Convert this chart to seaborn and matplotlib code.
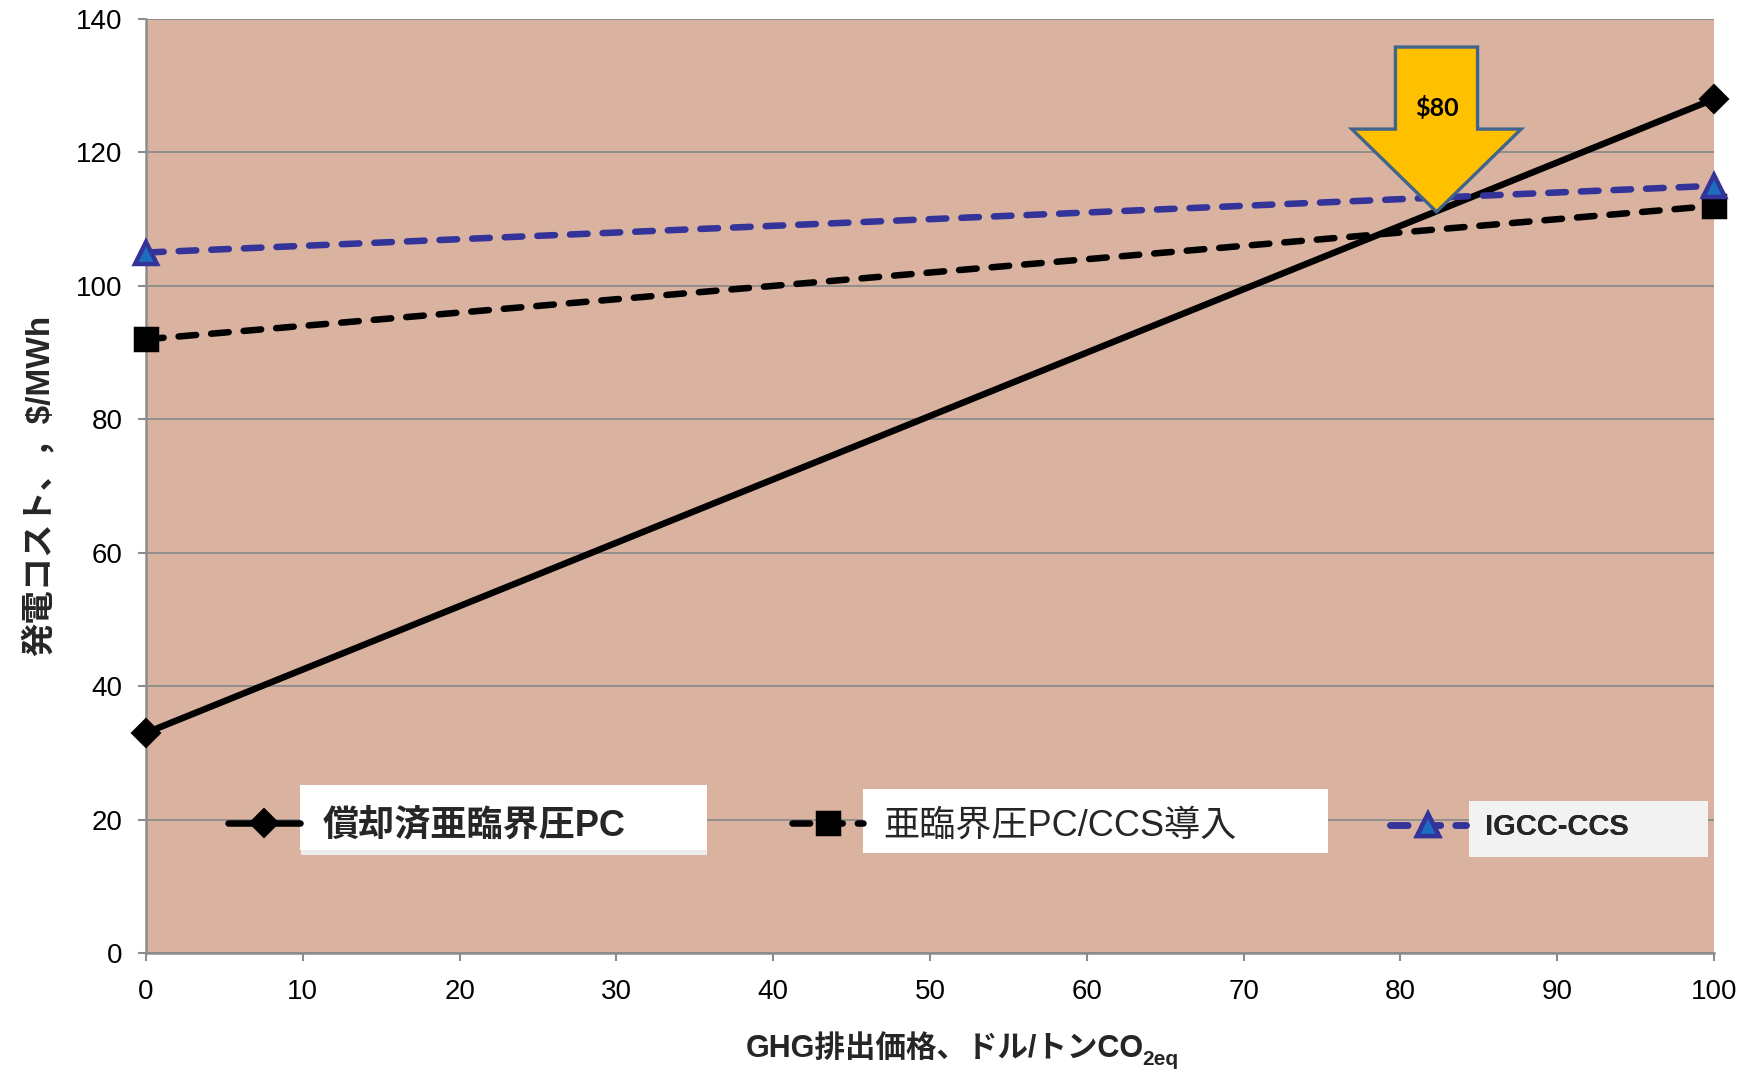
import numpy as np
import pandas as pd
import matplotlib
matplotlib.use("Agg")
import matplotlib.pyplot as plt
import seaborn as sns
from matplotlib.patches import Rectangle, Polygon
from matplotlib.font_manager import FontProperties

# --- data -----------------------------------------------------------------
carbon_price = [0, 100]                 # GHG price, $/t CO2eq
amortized_subcritical_pc = [33, 128]    # $/MWh
subcritical_pc_ccs = [92, 112]
igcc_ccs = [105, 115]

series_names = ["償却済亜臨界圧PC", "亜臨界圧PC/CCS導入", "IGCC-CCS"]
x_ticks = list(range(0, 101, 10))
y_ticks = list(range(0, 141, 20))
x_label = "GHG排出価格、ドル/トンCO"
x_label_sub = "2eq"
y_label = "発電コスト、，$/MWh"
callout_text = "$80"

# --- style ----------------------------------------------------------------
sns.set_style("white")
FAMILY = ["Liberation Sans", "Noto Sans CJK JP", "DejaVu Sans"]
plt.rcParams["font.family"] = FAMILY

BG = "#D9B3A0"
GRID = "#8C8C8C"
NAVY = "#333399"

df = pd.DataFrame({
    "price": carbon_price * 3,
    "cost": amortized_subcritical_pc + subcritical_pc_ccs + igcc_ccs,
    "series": np.repeat(series_names, len(carbon_price)),
})

fig = plt.figure(figsize=(17.49, 10.75), dpi=100)
ax = fig.add_axes([0.0835, 0.1135, 0.8965, 0.8688])
ax.set_facecolor(BG)

line_styles = {
    series_names[0]: dict(color="black", linestyle="-", marker="D",
                          markersize=14, markerfacecolor="black",
                          markeredgecolor="black", markeredgewidth=1.5),
    series_names[1]: dict(color="black", linestyle=(0, (2.7, 2.3)), marker="s",
                          markersize=16, markerfacecolor="black",
                          markeredgecolor="black", markeredgewidth=2.5),
    series_names[2]: dict(color=NAVY, linestyle=(0, (2.7, 2.3)), marker="^",
                          markersize=16, markerfacecolor="#1C6FC0",
                          markeredgecolor=NAVY, markeredgewidth=3.2),
}

handles = []
for name in series_names:
    sub = df[df["series"] == name]
    sns.lineplot(data=sub, x="price", y="cost", ax=ax, errorbar=None,
                 legend=False, linewidth=4.7, dash_capstyle="round",
                 solid_capstyle="round", clip_on=False, zorder=3,
                 **line_styles[name])
    handles.append(ax.lines[-1])

# --- axes -----------------------------------------------------------------
ax.set_xlim(0, 100)
ax.set_ylim(0, 140)
ax.set_xticks(x_ticks)
ax.set_yticks(y_ticks)
ax.yaxis.grid(True, color=GRID, linewidth=1.3)
ax.xaxis.grid(False)
ax.set_axisbelow(True)
for side in ("top", "right"):
    ax.spines[side].set_visible(False)
for side in ("left", "bottom"):
    ax.spines[side].set_color(GRID)
    ax.spines[side].set_linewidth(1.8)
ax.tick_params(axis="both", direction="out", length=6, width=1.5,
               color=GRID, labelsize=20, labelcolor="black")
ax.tick_params(axis="y", pad=11)
ax.tick_params(axis="x", pad=13)
ax.tick_params(left=True, bottom=True)

ax.set_xlabel(x_label, fontsize=22, fontweight="bold", family=FAMILY)
ax.xaxis.set_label_coords(0.5095, -0.1028)
ax.xaxis.label.set_verticalalignment("center")
ax.annotate(x_label_sub, xy=(1.0, 0.14), xycoords=ax.xaxis.label,
            xytext=(-1, 0), textcoords="offset points",
            ha="left", va="center", fontsize=15, fontweight="bold",
            family=FAMILY, annotation_clip=False)

ax.set_ylabel(y_label, fontsize=24, fontweight="bold", family=FAMILY)
ax.yaxis.set_label_coords(-0.0682, 0.501)
ax.yaxis.label.set_verticalalignment("center")

# --- legend entries: sample line + label on a white card -----------------
cards = [
    # (x0, y0, x1, y1, face) in axes fraction
    (0.0982, 0.1103, 0.3578, 0.1799, "white"),
    (0.4573, 0.1071, 0.7538, 0.1756, "white"),
    (0.8438, 0.1028, 0.9962, 0.1627, "#F2F2F2"),
]
# shadow strip under the first card
ax.add_patch(Rectangle((0.0988, 0.1049), 0.3578 - 0.0988, 0.1103 - 0.1049,
                       transform=ax.transAxes, facecolor="#EDEDED",
                       edgecolor="none", zorder=4.4))
for x0, y0, x1, y1, face in cards:
    ax.add_patch(Rectangle((x0, y0), x1 - x0, y1 - y0, transform=ax.transAxes,
                           facecolor=face, edgecolor="none", zorder=4.5))

legend_specs = [
    # anchor x, anchor y, handlelength, handletextpad, weight, size
    (0.0523, 0.136, 2.0, 0.61, "bold", 26),
    (0.4120, 0.136, 1.97, 0.55, "normal", 26),
    (0.7934, 0.135, 2.6, 0.65, "bold", 21),
]
for handle, name, (lx, ly, hl, htp, wt, sz) in zip(handles, series_names,
                                                   legend_specs):
    leg = ax.legend([handle], [name], loc="center left",
                    bbox_to_anchor=(lx, ly), frameon=False, borderpad=0,
                    borderaxespad=0, handlelength=hl, handletextpad=htp,
                    numpoints=1,
                    prop=FontProperties(family=FAMILY, weight=wt, size=sz))
    leg.set_zorder(5)
    ax.add_artist(leg)

# --- break-even callout arrow ----------------------------------------------
arrow_x, arrow_tip_y = 82.3, 111.1
body_half, head_half = 2.62, 5.4
shoulder_y, top_y = 123.5, 135.8
arrow = Polygon([
    (arrow_x - body_half, top_y), (arrow_x + body_half, top_y),
    (arrow_x + body_half, shoulder_y), (arrow_x + head_half, shoulder_y),
    (arrow_x, arrow_tip_y), (arrow_x - head_half, shoulder_y),
    (arrow_x - body_half, shoulder_y),
], closed=True, facecolor="#FFC000", edgecolor="#41648A", linewidth=2.4,
    joinstyle="miter", zorder=6)
ax.add_patch(arrow)
ax.text(arrow_x, 126.6, callout_text, ha="center", va="center",
        fontsize=18, fontweight="bold", family=["Lato", "DejaVu Sans"],
        color="black", zorder=7)

fig.savefig("out.png", dpi=100, facecolor="white")
